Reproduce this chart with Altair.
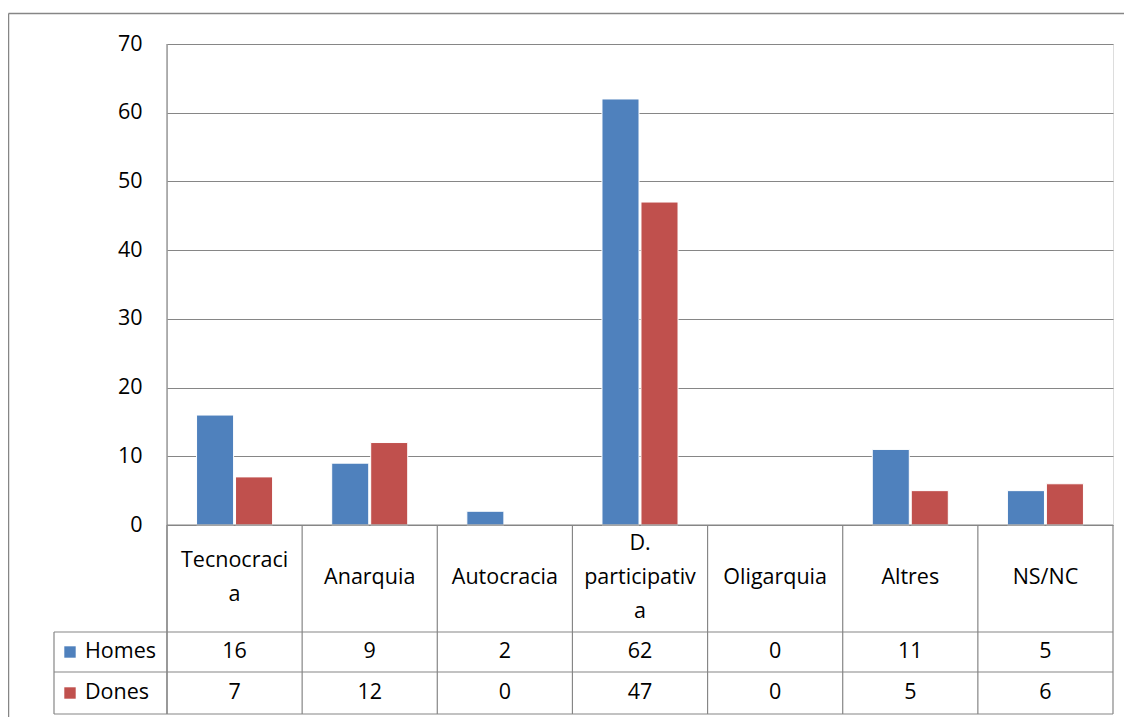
import altair as alt
import pandas as pd

categories = ["Tecnocracia", "Anarquia", "Autocracia", "D. participativa",
              "Oligarquia", "Altres", "NS/NC"]
category_labels = ["Tecnocraci\na", "Anarquia", "Autocracia", "D.\nparticipativ\na",
                   "Oligarquia", "Altres", "NS/NC"]
series = ["Homes", "Dones"]
homes = [16, 9, 2, 62, 0, 11, 5]
dones = [7, 12, 0, 47, 0, 5, 6]
colors = ["#4F81BD", "#C0504D"]
y_ticks = [0, 10, 20, 30, 40, 50, 60, 70]

FONT = "Open Sans"
FS = 21.5
GRAY = "#868686"
LH = 34

W, H = 946, 481

rows = []
for s, vals in zip(series, [homes, dones]):
    for c, v in zip(categories, vals):
        rows.append({"cat": c, "series": s, "value": v})
df = pd.DataFrame(rows)
lab_df = pd.DataFrame({"cat": categories, "label": category_labels})
cat_df = pd.DataFrame({"cat": categories})
ser_df = pd.DataFrame({"series": series})

xenc = alt.X("cat:N", sort=categories,
             scale=alt.Scale(paddingInner=0, paddingOuter=0), axis=None)

bars = alt.Chart(df).transform_filter("datum.value > 0").mark_bar(
    stroke="white", strokeWidth=1
).encode(
    x=xenc,
    xOffset=alt.XOffset("series:N", sort=series,
                        scale=alt.Scale(domain=series, paddingInner=0.05, paddingOuter=0.758)),
    y=alt.Y("value:Q", scale=alt.Scale(domain=[0, 70], nice=False, zero=True),
            axis=alt.Axis(values=y_ticks, title=None, domain=False, ticks=False,
                          grid=True, gridColor=GRAY, gridWidth=1.2,
                          labelFont=FONT, labelFontSize=FS, labelColor="black",
                          labelPadding=25)),
    color=alt.Color("series:N", sort=series,
                    scale=alt.Scale(domain=series, range=colors), legend=None),
)

# table lines
hlines = alt.Chart(pd.DataFrame({
    "x1": [0, -113, -113, -113], "x2": [W, W, W, W],
    "y": [H, 588, 628, 670]})).mark_rule(color=GRAY, strokeWidth=1.2).encode(
    x=alt.X("x1:Q", scale=None), x2="x2:Q", y=alt.Y("y:Q", scale=None))

vlines_fixed = alt.Chart(pd.DataFrame({
    "x": [-113, 0, W], "y1": [588, 0, H], "y2": [670, 670, 670]})).mark_rule(
    color=GRAY, strokeWidth=1.2).encode(
    x=alt.X("x:Q", scale=None), y=alt.Y("y1:Q", scale=None), y2="y2:Q")

col_lines = alt.Chart(cat_df).mark_rule(color=GRAY, strokeWidth=1.2).encode(
    x=alt.X("cat:N", sort=categories, bandPosition=0,
            scale=alt.Scale(paddingInner=0, paddingOuter=0), axis=None),
    y=alt.value(H), y2=alt.value(670))

# outer frame (top and left edges)
frame = alt.Chart(pd.DataFrame({
    "x1": [-158.5, -158.5], "x2": [1100, -158.5],
    "y1": [-30.5, -30.5], "y2": [-30.5, 720]})).mark_rule(
    color=GRAY, strokeWidth=1.5).encode(
    x=alt.X("x1:Q", scale=None), x2="x2:Q",
    y=alt.Y("y1:Q", scale=None), y2="y2:Q")

header_layers = []
for n in (1, 2, 3):
    header_layers.append(alt.Chart(lab_df).transform_calculate(
        n="length(split(datum.label, '\\n'))"
    ).transform_filter(f"datum.n == {n}").mark_text(
        font=FONT, fontSize=FS, color="black", lineBreak="\n", lineHeight=LH,
        baseline="middle", align="center").encode(
        x=xenc, y=alt.value(534 - (n - 1) * LH / 2), text="label:N"))

row_y = {"Homes": 608, "Dones": 649}
value_layers = []
legend_layers = []
for s, col in zip(series, colors):
    sub = df[df.series == s]
    value_layers.append(alt.Chart(sub).mark_text(
        font=FONT, fontSize=FS, color="black", baseline="middle", align="center"
    ).encode(x=xenc, y=alt.value(row_y[s]), text="value:Q"))
    sdf = ser_df[ser_df.series == s]
    legend_layers.append(alt.Chart(sdf).mark_point(
        shape="square", filled=True, size=130, color=col, opacity=1
    ).encode(x=alt.value(-97), y=alt.value(row_y[s])))
    legend_layers.append(alt.Chart(sdf).mark_text(
        font=FONT, fontSize=FS, color="black", baseline="middle", align="left"
    ).encode(x=alt.value(-82), y=alt.value(row_y[s]), text="series:N"))

chart = alt.layer(
    frame, bars, hlines, vlines_fixed, col_lines, *header_layers,
    *value_layers, *legend_layers
).properties(
    width=W, height=H,
    autosize=alt.AutoSizeParams(type="none"),
    padding={"left": 159, "top": 36, "right": 11, "bottom": 195},
).configure_view(stroke=None).configure(background="white")

chart.save("out.html", embed_options={"renderer": "svg", "actions": False})
